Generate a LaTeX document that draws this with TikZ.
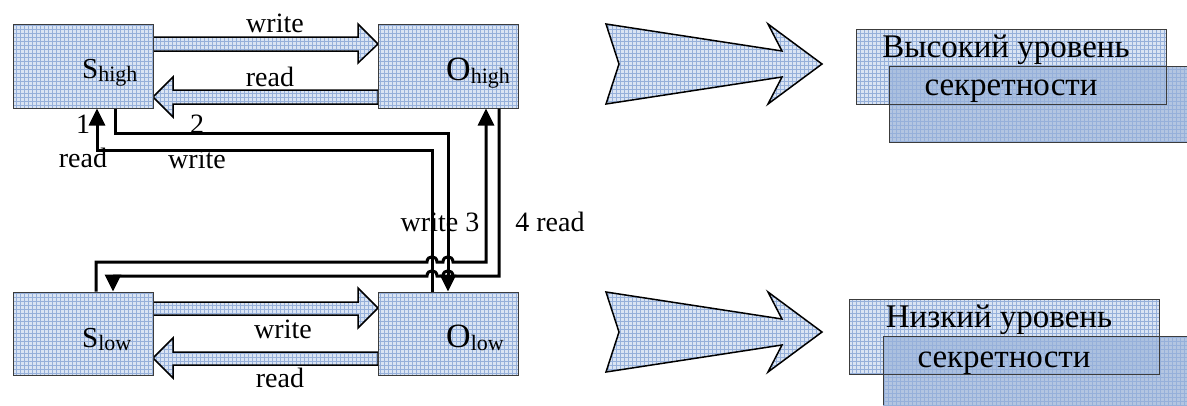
\documentclass[tikz,border=0pt]{standalone}
\usepackage{fontspec}
\setmainfont{Liberation Serif}
\usetikzlibrary{arrows.meta,patterns}
\pgfdeclarepatternformonly{finegrid}{\pgfqpoint{-1pt}{-1pt}}{\pgfqpoint{4pt}{4pt}}{\pgfqpoint{4pt}{4pt}}{%
  \pgfsetlinewidth{0.5pt}%
  \pgfpathmoveto{\pgfqpoint{0pt}{0pt}}\pgfpathlineto{\pgfqpoint{0pt}{4.1pt}}%
  \pgfpathmoveto{\pgfqpoint{0pt}{0pt}}\pgfpathlineto{\pgfqpoint{4.1pt}{0pt}}%
  \pgfusepath{stroke}}
\definecolor{boxfill}{RGB}{218,228,243}
\definecolor{gridcol}{RGB}{150,176,218}
\definecolor{darkfill}{RGB}{160,183,218}
\definecolor{boxline}{RGB}{60,60,60}
\begin{document}
\begin{tikzpicture}[x=1pt,y=-1pt,
  box/.style={draw=boxline, line width=1pt, preaction={fill=boxfill}, pattern=finegrid, pattern color=gridcol,
    minimum width=140pt, minimum height=84pt, inner sep=0pt},
  barrow/.style={draw=black, line width=1.5pt, preaction={fill=boxfill}, pattern=finegrid, pattern color=gridcol, line join=miter},
  panel/.style={draw=boxline, line width=1pt, preaction={fill=boxfill}, pattern=finegrid, pattern color=gridcol},
  conn/.style={line width=3pt, -{Triangle[length=17pt,width=16pt]}},
  lbl/.style={font=\fontsize{28}{30}\selectfont, inner sep=0pt, anchor=base},
  subj/.style={font=\fontsize{29}{30}\selectfont, inner sep=0pt, anchor=base west},
  obj/.style={font=\fontsize{34}{36}\selectfont, inner sep=0pt, anchor=base west},
  rus/.style={font=\fontsize{33}{35}\selectfont, inner sep=0pt, anchor=base}]
\useasboundingbox (0,0) rectangle (1187,405);

% fat arrows between boxes
\path[barrow] (153,37) -- (358,37) -- (358,24) -- (378,44) -- (358,63) -- (358,51) -- (153,51) -- cycle;
\path[barrow] (378,90) -- (173,90) -- (173,77) -- (153,97) -- (173,117) -- (173,104) -- (378,104) -- cycle;
\path[barrow] (153,302) -- (358,302) -- (358,288) -- (378,308) -- (358,328) -- (358,315) -- (153,315) -- cycle;
\path[barrow] (378,352) -- (173,352) -- (173,338) -- (153,358) -- (173,378) -- (173,365) -- (378,365) -- cycle;

% boxes
\node[box] (sh) at (83,66) {};
\node[box] (oh) at (448,66) {};
\node[box, minimum height=83pt] (sl) at (83,333.5) {};
\node[box, minimum height=83pt] (ol) at (448,333.5) {};

\node[subj] (tsh) at (82,78) {S\raisebox{-3pt}{\fontsize{22}{22}\selectfont high}};
\node[obj] (toh) at (446,80) {O\raisebox{-3pt}{\fontsize{22}{22}\selectfont high}};
\node[subj] (tsl) at (82,347) {S\raisebox{-3pt}{\fontsize{22}{22}\selectfont low}};
\node[obj] (tol) at (446,347) {O\raisebox{-3pt}{\fontsize{22}{22}\selectfont low}};

\node[lbl] (w1) at (275,32) {write};
\node[lbl] (r1) at (270,86) {read};
\node[lbl] (w2) at (283,338) {write};
\node[lbl] (r2) at (280,387) {read};

% thin connectors
\coordinate (l1a) at (432,150);
\coordinate (l1b) at (97,150);
\coordinate (l2a) at (115,133);
\coordinate (l2b) at (448,133);
\coordinate (l3a) at (96,262);
\coordinate (l3b) at (486,262);
\coordinate (l4a) at (499,276);
\coordinate (l4b) at (113,276);

\draw[conn] (l1a |- ol.north) -- (l1a) -- (l1b) -- (l1b |- sh.south);
\draw[conn] (l2a |- sh.south) -- (l2a) -- (l2b) -- (l2b |- ol.north);
\draw[conn] (l3a |- sl.north) -- (l3a) -- (427,262) .. controls (427,255) and (437,255) .. (437,262)
  -- (443,262) .. controls (443,255) and (453,255) .. (453,262) -- (l3b) -- (l3b |- oh.south);
\draw[conn] (l4a |- oh.south) -- (l4a) -- (453,276) .. controls (453,269) and (443,269) .. (443,276)
  -- (437,276) .. controls (437,269) and (427,269) .. (427,276) -- (l4b) -- (l4b |- sl.north);

\node[lbl] (n1) at (83,133) {1};
\node[lbl] (n1r) at (83,167) {read};
\node[lbl] (n2) at (197,133) {2};
\node[lbl] (n2w) at (197,168) {write};
\node[lbl] (n3) at (440,231) {write 3};
\node[lbl] (n4) at (550,231) {4 read};

% chevrons
\path[barrow] (606,24) -- (782,51) -- (768,24) -- (822,64) -- (768,104) -- (782,77) -- (606,104) -- (619,64) -- cycle;
\path[barrow] (606,292) -- (782,319) -- (768,292) -- (822,332) -- (768,372) -- (782,345) -- (606,372) -- (619,332) -- cycle;

% high level panel
\path[panel] (856,29) rectangle (1166,104);
\fill[darkfill, fill opacity=0.8] (889,66) rectangle (1187,142);
\fill[pattern=finegrid, pattern color=gridcol] (889,66) rectangle (1187,142);
\draw[boxline, line width=1pt] (1187,66) -- (889,66) -- (889,142) -- (1187,142);
\draw[boxline, line width=1pt] (856,29) rectangle (1166,104);
\node[rus] (hi1) at (1006,57) {Высокий уровень};
\node[rus] (hi2) at (1011,95) {секретности};

% low level panel
\path[panel] (849,299) rectangle (1159,374);
\fill[darkfill, fill opacity=0.8] (883,336) rectangle (1187,405);
\fill[pattern=finegrid, pattern color=gridcol] (883,336) rectangle (1187,405);
\draw[boxline, line width=1pt] (1187,336) -- (883,336) -- (883,405);
\draw[boxline, line width=1pt] (849,299) rectangle (1159,374);
\node[rus] (lo1) at (999,327) {Низкий уровень};
\node[rus] (lo2) at (1004,367) {секретности};
\end{tikzpicture}
\end{document}
